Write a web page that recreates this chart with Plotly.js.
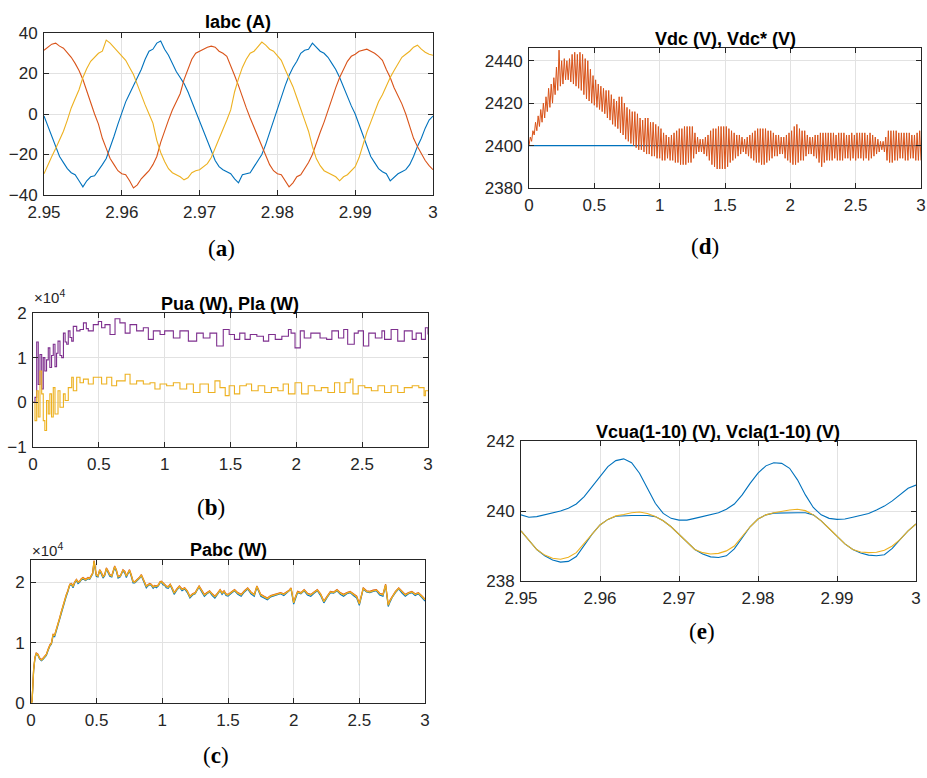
<!DOCTYPE html>
<html><head><meta charset="utf-8">
<script src="https://cdn.plot.ly/plotly-3.0.1.min.js"></script>
<style>html,body{margin:0;padding:0;background:#fff}#chart{width:927px;height:778px}</style>
</head><body><div id="chart"></div>
<script>
// ---------- (a) Iabc (A), t = 2.95 .. 3.0, step 0.5 ms ----------
const iaT0 = 2.95, iaDt = 0.0005;
const ia = [-1,-6,-11,-16,-21,-24,-27,-29,-30,-33,-36,-33,-31,-30.5,-28,-25,-22,-17,-11,-5,
  1,6,10,14,18,22,27,31,32,35,36,32,29,25,21,18,15,11,6,1,
  -4,-9,-14,-19,-23,-26,-27.5,-28.5,-29.5,-32,-34,-30,-29.5,-29,-26,-23,-20,-15,-9,-3,
  3,8,14,19,23,26,30,31.5,32,35,33,31,30,28,25,22,18,13,8,4,
  0,-5,-11,-16,-21,-24,-27,-28.5,-29.5,-33,-31,-29.5,-28.5,-27.5,-25,-21,-16,-12,-7,-3,-1];
const ib = [31.5,33,34.5,35,33.5,32.5,30.5,28,25,21.5,17,11,5,0,-5,-12,-17,-22,-25,-28,
  -29.5,-30,-33,-36.5,-35,-32,-30,-28,-25,-21,-14,-8,-3,2,6,10,17,22.5,27,30,
  31,32,33,33.5,33,31,30,28.5,24,19,14,8,3,-2,-6.5,-11,-16,-20.5,-25,-28,
  -29.5,-30,-33,-36,-34,-31,-30,-27,-24,-20,-14,-9,-4,2,8,13,18,22,26,28.5,
  29.5,31,31.5,32,31,30,28.5,26.5,22,18,13,9,5,0,-6,-12,-16,-19.5,-23,-25.5,-27.5];
const ic = [-29.5,-25,-21,-17,-12.5,-8.5,-3,3,7.5,12,18,22.5,26,28,30,31,36.5,35,33,31,
  29,26.5,23,19.5,14.5,9,4.5,0,-4.5,-13,-19,-23.5,-27,-29,-30,-31,-32.5,-31.5,-29,-28,
  -27.5,-26,-24.5,-21.5,-17,-12.5,-8,-3,2,11,17.5,23,27,30,31,33,35.5,34,32,31,
  29,26.5,22,18,13.5,8,2,-3,-8.5,-16,-22,-25.5,-28,-29,-30,-31,-33,-31,-30,-28,
  -26,-21.5,-15,-9,-4,1,6,9.5,14,18,21.5,24.5,28,29.5,31,33,34,32,30.5,29.5,29];
const iaTicks = [2.95,2.96,2.97,2.98,2.99,3.0];
const iaTickText = ['2.95','2.96','2.97','2.98','2.99','3'];

// ---------- (d) Vdc (V), Vdc* (V), t = 0 .. 3, step 0.01 s ----------
const vdcDt = 0.01;
const vdc = [
 2400,2404,2402,2407,2405,2411,2407,2414,2409,2417,
 2411,2420,2413,2423,2416,2427,2418,2429,2420,2432,
 2424,2437,2426,2445,2428,2440,2429,2441,2431,2440,
 2431,2441,2430,2443,2429,2444,2428,2443,2427,2444,
 2426,2443,2424,2441,2422,2440,2421,2436,2420,2433,
 2419,2431,2418,2429,2417,2428,2416,2427,2415,2426,
 2413,2426,2412,2424,2410,2422,2409,2421,2408,2423,
 2406,2423,2405,2420,2403,2418,2402,2417,2401,2416,
 2400,2416,2399,2415,2398,2413,2398,2412,2397,2413,
 2396,2413,2396,2411,2395,2411,2395,2410,2394,2409,
 2394,2408,2393,2406,2393,2405,2394,2404,2393,2405,
 2393,2406,2392,2407,2392,2408,2391,2408,2391,2409,
 2391,2409,2392,2409,2392,2409,2394,2406,2396,2404,
 2397,2403,2397,2403,2396,2404,2395,2405,2393,2407,
 2391,2408,2390,2408,2389,2409,2389,2409,2389,2409,
 2389,2409,2390,2408,2392,2407,2393,2406,2394,2405,
 2395,2405,2396,2404,2397,2403,2396,2404,2395,2405,
 2394,2406,2393,2407,2392,2408,2392,2408,2391,2408,
 2391,2408,2392,2407,2393,2407,2394,2406,2395,2405,
 2395,2405,2396,2404,2396,2404,2394,2405,2393,2406,
 2392,2407,2391,2409,2391,2410,2392,2408,2393,2407,
 2393,2407,2395,2405,2396,2404,2396,2404,2395,2405,
 2394,2405,2392,2406,2390,2406,2392,2406,2393,2406,
 2393,2406,2393,2406,2394,2405,2393,2406,2393,2406,
 2393,2406,2394,2405,2394,2405,2393,2406,2394,2405,
 2393,2406,2394,2406,2394,2406,2393,2406,2394,2405,
 2393,2406,2394,2405,2395,2404,2396,2403,2397,2402,
 2398,2402,2397,2404,2393,2407,2392,2407,2392,2407,
 2393,2407,2393,2406,2394,2406,2394,2406,2393,2406,
 2393,2406,2394,2405,2394,2405,2393,2406,2393,2407,
 2393];
const vdcRefT = [0, 3];
const vdcRef = [2400, 2400];

// ---------- (b) Pua (W), Pla (W)  [x 1e4] ----------
const puaPts = [[0,0],[0.015,0.11],[0.028,1.35],[0.04,0.4],[0.053,1.07],[0.066,0.3],[0.078,1.0],[0.09,0.7],
 [0.103,0.95],[0.116,1.22],[0.128,0.78],[0.141,1.05],[0.154,1.3],[0.167,0.8],[0.179,1.1],[0.19,1.37],
 [0.205,1.05],[0.218,1.0],[0.231,1.55],[0.244,1.35],[0.256,1.3],[0.268,1.6],[0.281,1.45],[0.294,1.37],
 [0.306,1.7],[0.332,1.6],[0.357,1.63],[0.383,1.78],[0.405,1.65],[0.42,1.6],[0.458,1.74],[0.496,1.81],
 [0.521,1.67],[0.547,1.74],[0.585,1.52],[0.623,1.87],[0.66,1.78],[0.7,1.55],[0.737,1.74],[0.787,1.6],
 [0.838,1.67],[0.876,1.41],[0.914,1.6],[0.965,1.52],[1.0,1.6],[1.066,1.44],[1.116,1.6],[1.18,1.37],
 [1.243,1.55],[1.293,1.44],[1.344,1.55],[1.395,1.26],[1.445,1.63],[1.49,1.52],[1.53,1.41],[1.57,1.55],
 [1.61,1.41],[1.65,1.52],[1.70,1.48],[1.75,1.37],[1.79,1.52],[1.84,1.41],[1.89,1.48],[1.94,1.63],
 [1.96,1.55],[1.99,1.22],[2.03,1.6],[2.06,1.44],[2.11,1.55],[2.18,1.44],[2.23,1.41],[2.27,1.6],
 [2.32,1.44],[2.36,1.63],[2.39,1.3],[2.44,1.55],[2.47,1.6],[2.51,1.26],[2.55,1.55],[2.60,1.44],
 [2.65,1.6],[2.67,1.41],[2.72,1.63],[2.77,1.37],[2.82,1.6],[2.88,1.41],[2.91,1.55],[2.95,1.41],
 [2.98,1.67],[3.0,1.52]];
const plaPts = [[0,0.0],[0.015,-0.41],[0.028,0.26],[0.04,-0.33],[0.053,0.7],[0.066,0.19],[0.078,-0.41],
 [0.09,-0.63],[0.103,0.04],[0.116,-0.26],[0.128,0.19],[0.141,-0.33],[0.154,0.33],[0.167,-0.26],[0.19,0.26],
 [0.205,-0.11],[0.231,0.19],[0.244,0.04],[0.268,0.33],[0.294,0.56],[0.306,0.26],[0.332,0.56],[0.357,0.44],
 [0.383,0.52],[0.42,0.41],[0.458,0.56],[0.496,0.56],[0.521,0.41],[0.56,0.56],[0.598,0.37],[0.635,0.48],
 [0.7,0.63],[0.737,0.41],[0.787,0.48],[0.838,0.41],[0.889,0.44],[0.926,0.3],[0.965,0.41],[1.015,0.37],
 [1.066,0.44],[1.116,0.3],[1.167,0.41],[1.218,0.22],[1.268,0.41],[1.332,0.22],[1.382,0.48],[1.42,0.33],
 [1.46,0.15],[1.49,0.37],[1.53,0.19],[1.57,0.37],[1.62,0.41],[1.66,0.26],[1.71,0.37],[1.76,0.22],
 [1.81,0.33],[1.86,0.26],[1.90,0.41],[1.94,0.19],[1.99,0.44],[2.04,0.19],[2.09,0.37],[2.14,0.26],
 [2.19,0.33],[2.24,0.22],[2.29,0.44],[2.33,0.22],[2.37,0.44],[2.41,0.52],[2.43,0.19],[2.47,0.37],
 [2.52,0.33],[2.57,0.26],[2.62,0.37],[2.67,0.22],[2.72,0.37],[2.77,0.22],[2.82,0.33],[2.88,0.37],
 [2.93,0.33],[2.97,0.15],[2.98,0.26],[3.0,0.26]];

// ---------- (c) Pabc (W)  [x 1e4], three phases on a shared time base ----------
const pcT = [0,0.008,0.02,0.03,0.04,0.053,0.065,0.079,0.09,0.104,0.117,0.13,0.145,0.155,0.168,0.18,
 0.193,0.205,0.218,0.23,0.244,0.255,0.269,0.28,0.295,0.308,0.32,0.333,0.346,0.358,0.37,0.383,0.396,
 0.415,0.434,0.447,0.46,0.47,0.48,0.488,0.497,0.51,0.523,0.535,0.548,0.561,0.574,0.587,0.6,0.615,
 0.625,0.637,0.65,0.663,0.68,0.7,0.715,0.726,0.738,0.75,0.763,0.777,0.79,0.803,0.815,0.828,0.84,
 0.855,0.866,0.878,0.89,0.903,0.916,0.93,0.942,0.955,0.97,0.982,0.993,1.005,1.018,1.03,1.045,1.06,
 1.075,1.09,1.11,1.13,1.15,1.17,1.19,1.21,1.23,1.25,1.265,1.28,1.3,1.32,1.34,1.36,1.38,1.4,1.42,
 1.44,1.455,1.47,1.485,1.5,1.525,1.55,1.575,1.6,1.625,1.65,1.675,1.7,1.72,1.735,1.75,1.775,1.8,
 1.825,1.85,1.875,1.9,1.925,1.95,1.965,1.98,2.0,2.015,2.03,2.055,2.08,2.105,2.13,2.155,2.18,2.205,
 2.23,2.255,2.28,2.305,2.33,2.355,2.38,2.405,2.43,2.455,2.48,2.5,2.515,2.53,2.555,2.58,2.605,2.63,
 2.655,2.68,2.7,2.72,2.735,2.75,2.775,2.8,2.825,2.85,2.875,2.9,2.925,2.95,2.975,3.0];
const pc = [0,0.02,0.55,0.75,0.82,0.8,0.74,0.71,0.73,0.77,0.8,0.88,0.96,0.98,1.13,1.12,
 1.21,1.28,1.4,1.5,1.62,1.7,1.79,1.85,1.96,1.97,1.93,2.0,2.04,2.0,2.01,2.05,2.07,
 2.04,2.07,2.06,2.12,2.15,2.35,2.22,2.12,2.1,2.2,2.16,2.09,2.12,2.23,2.18,2.12,2.1,
 2.16,2.26,2.2,2.09,2.1,2.2,2.17,2.1,2.15,2.2,2.12,2.01,2.0,2.03,2.04,2.08,2.12,
 2.05,1.98,1.93,1.95,1.97,1.96,1.92,1.94,1.93,1.95,2.0,2.01,1.98,1.96,1.93,1.92,1.96,
 1.9,1.82,1.88,1.93,1.88,1.9,1.85,1.76,1.8,1.82,1.88,1.93,1.86,1.79,1.82,1.85,1.8,1.76,1.81,
 1.87,1.82,1.85,1.8,1.79,1.83,1.87,1.82,1.79,1.85,1.9,1.83,1.79,1.93,1.85,1.79,1.76,1.73,
 1.77,1.79,1.8,1.82,1.8,1.84,1.86,1.9,1.66,1.76,1.84,1.82,1.87,1.81,1.79,1.83,1.87,1.8,
 1.68,1.76,1.84,1.83,1.87,1.82,1.79,1.82,1.84,1.8,1.76,1.64,1.78,1.9,1.85,1.84,1.86,1.87,
 1.81,1.79,1.96,1.62,1.7,1.76,1.84,1.9,1.84,1.79,1.82,1.84,1.8,1.82,1.77,1.71];
const pa = [0,0.02,0.54,0.74,0.81,0.79,0.73,0.7,0.72,0.76,0.79,0.87,0.95,0.97,1.11,1.1,
 1.2,1.27,1.39,1.49,1.61,1.69,1.77,1.84,1.95,1.96,1.91,1.99,2.03,1.98,2.0,2.04,2.06,
 2.03,2.06,2.05,2.11,2.14,2.34,2.2,2.1,2.09,2.19,2.14,2.07,2.11,2.22,2.16,2.1,2.09,
 2.15,2.25,2.18,2.07,2.09,2.19,2.15,2.08,2.14,2.19,2.1,1.99,1.99,2.02,2.03,2.07,2.11,
 2.03,1.96,1.91,1.94,1.96,1.95,1.9,1.93,1.91,1.94,1.99,2.0,1.96,1.95,1.91,1.9,1.95,
 1.88,1.8,1.87,1.92,1.86,1.89,1.83,1.74,1.79,1.81,1.87,1.92,1.84,1.77,1.81,1.84,1.78,1.74,1.8,
 1.86,1.8,1.84,1.78,1.77,1.82,1.86,1.8,1.77,1.84,1.89,1.81,1.77,1.92,1.83,1.77,1.74,1.71,
 1.76,1.78,1.79,1.81,1.78,1.83,1.85,1.89,1.64,1.75,1.83,1.81,1.86,1.79,1.77,1.82,1.86,1.78,
 1.66,1.75,1.83,1.82,1.86,1.8,1.77,1.81,1.83,1.78,1.74,1.62,1.77,1.89,1.84,1.83,1.85,1.86,
 1.79,1.77,1.95,1.6,1.68,1.75,1.83,1.89,1.82,1.77,1.81,1.83,1.78,1.81,1.75,1.69];
const pb = [0,0.02,0.56,0.76,0.83,0.81,0.75,0.72,0.74,0.78,0.81,0.89,0.97,0.99,1.14,1.13,
 1.22,1.29,1.41,1.51,1.63,1.71,1.8,1.86,1.97,1.98,1.94,2.01,2.05,2.01,2.02,2.06,2.08,
 2.05,2.08,2.07,2.13,2.16,2.36,2.23,2.13,2.11,2.21,2.17,2.1,2.13,2.24,2.19,2.13,2.11,
 2.17,2.27,2.21,2.1,2.11,2.21,2.18,2.11,2.16,2.21,2.13,2.02,2.01,2.04,2.05,2.09,2.13,
 2.06,1.99,1.94,1.96,1.98,1.97,1.93,1.95,1.94,1.96,2.01,2.02,1.99,1.97,1.94,1.93,1.97,
 1.91,1.83,1.89,1.94,1.89,1.91,1.86,1.77,1.81,1.83,1.89,1.94,1.87,1.8,1.83,1.86,1.81,1.77,1.82,
 1.88,1.83,1.86,1.81,1.8,1.84,1.88,1.83,1.8,1.86,1.91,1.84,1.8,1.94,1.86,1.8,1.77,1.74,
 1.78,1.8,1.81,1.83,1.81,1.85,1.87,1.91,1.67,1.77,1.85,1.83,1.88,1.82,1.8,1.84,1.88,1.81,
 1.69,1.77,1.85,1.84,1.88,1.83,1.8,1.83,1.85,1.81,1.77,1.65,1.79,1.91,1.86,1.85,1.87,1.88,
 1.82,1.8,1.97,1.63,1.71,1.77,1.85,1.91,1.85,1.8,1.83,1.85,1.81,1.83,1.78,1.72];

// ---------- (e) Vcua(1-10), Vcla(1-10) (V), t = 2.95 .. 3.0, step 1 ms ----------
const vcT0 = 2.95, vcDt = 0.001;
const vcuaUpper = [239.89,239.82,239.84,239.89,239.95,240.0,240.08,240.2,240.41,240.7,
  241.0,241.27,241.44,241.49,241.38,241.08,240.65,240.22,239.93,239.79,
  239.74,239.74,239.79,239.84,239.89,239.95,240.05,240.2,240.46,240.79,
  241.08,241.29,241.38,241.36,241.22,240.89,240.46,240.1,239.89,239.79,
  239.76,239.77,239.82,239.87,239.93,240.03,240.14,240.29,240.46,240.65,240.74];
const vclaBlue = [239.43,239.17,238.9,238.72,238.6,238.54,238.56,238.7,239.02,239.34,
  239.6,239.76,239.85,239.87,239.87,239.87,239.87,239.84,239.72,239.55,
  239.33,239.1,238.9,238.77,238.69,238.67,238.72,238.92,239.25,239.55,
  239.77,239.89,239.94,239.95,239.95,239.95,239.95,239.89,239.72,239.5,
  239.27,239.06,238.9,238.8,238.74,238.72,238.75,238.93,239.19,239.43,239.63];
const vclaYellow = [239.43,239.17,238.9,238.74,238.65,238.62,238.68,238.81,239.08,239.36,
  239.6,239.76,239.86,239.9,239.95,239.97,239.93,239.84,239.72,239.55,
  239.33,239.1,238.9,238.81,238.77,238.79,238.86,239.0,239.27,239.55,
  239.77,239.89,239.95,240.0,240.03,240.05,240.01,239.89,239.72,239.5,
  239.27,239.06,238.9,238.83,238.81,238.82,238.88,239.0,239.19,239.43,239.63];

// ---------- build ----------
const W = 927, H = 778;
const seq = (t0, dt, n) => Array.from({length: n}, (_, i) => +(t0 + i * dt).toFixed(6));
const col = (pts, k) => pts.map(p => p[k]);
const C = {blue:'#0072BD', orange:'#D95319', yellow:'#EDB120', purple:'#7E2F8E'};

const iaT = seq(iaT0, iaDt, ia.length);
const vdcT = seq(0, vdcDt, vdc.length);
const vcT = seq(vcT0, vcDt, vcuaUpper.length);

function ln(x, y, color, xa, ya, w, shape) {
  return {type:'scatter', mode:'lines', x:x, y:y, xaxis:xa, yaxis:ya,
          line:{color:color, width:w || 1, shape:shape || 'linear'}, hoverinfo:'skip', showlegend:false};
}
const data = [
  ln(iaT, ia, C.blue, 'x', 'y', 1.1),
  ln(iaT, ib, C.orange, 'x', 'y', 1.1),
  ln(iaT, ic, C.yellow, 'x', 'y', 1.1),
  ln(vdcRefT, vdcRef, C.blue, 'x2', 'y2', 1.2),
  ln(vdcT, vdc, C.orange, 'x2', 'y2', 1),
  ln(col(puaPts,0), col(puaPts,1), C.purple, 'x3', 'y3', 1.1, 'hv'),
  ln(col(plaPts,0), col(plaPts,1), C.yellow, 'x3', 'y3', 1.1, 'hv'),
  ln(pcT, pa, C.blue, 'x4', 'y4', 1.2),
  ln(pcT, pb, C.orange, 'x4', 'y4', 1.2),
  ln(pcT, pc, C.yellow, 'x4', 'y4', 1.3),
  ln(vcT, vcuaUpper, C.blue, 'x5', 'y5', 1.1),
  ln(vcT, vclaBlue, C.blue, 'x5', 'y5', 1.1),
  ln(vcT, vclaYellow, C.yellow, 'x5', 'y5', 1.1)
];

const tickFont = {family:'Liberation Sans, Arial, sans-serif', size:17, color:'#262626'};
function ax(extra) {
  return Object.assign({showline:true, mirror:'ticks', linecolor:'#262626', linewidth:1,
    ticks:'inside', ticklen:5, tickcolor:'#262626', showgrid:true, gridcolor:'#e2e2e2', gridwidth:1,
    zeroline:false, tickfont:tickFont, fixedrange:true, ticklabelstandoff:2}, extra);
}
const xd = (l, r) => [l / W, r / W];
const yd = (t, b) => [1 - b / H, 1 - t / H];
const tHalf = [0,0.5,1,1.5,2,2.5,3];
const tHalfTxt = ['0','0.5','1','1.5','2','2.5','3'];

const layout = {
  width:W, height:H, margin:{l:0,r:0,t:0,b:0}, paper_bgcolor:'#fff', plot_bgcolor:'#fff', showlegend:false,
  xaxis: ax({domain:xd(44,433), anchor:'y', range:[2.95,3.0], tickvals:iaTicks, ticktext:iaTickText}),
  yaxis: ax({domain:yd(33,195), anchor:'x', range:[-40,40], tickvals:[-40,-20,0,20,40]}),
  xaxis2: ax({domain:xd(529,921), anchor:'y2', range:[0,3], tickvals:tHalf, ticktext:tHalfTxt}),
  yaxis2: ax({domain:yd(48,188), anchor:'x2', range:[2380,2446], tickvals:[2380,2400,2420,2440]}),
  xaxis3: ax({domain:xd(33,428), anchor:'y3', range:[0,3], tickvals:tHalf, ticktext:tHalfTxt}),
  yaxis3: ax({domain:yd(313,447), anchor:'x3', range:[-1,2], tickvals:[-1,0,1,2]}),
  xaxis4: ax({domain:xd(31,425), anchor:'y4', range:[0,3], tickvals:tHalf, ticktext:tHalfTxt}),
  yaxis4: ax({domain:yd(560,703), anchor:'x4', range:[0,2.37], tickvals:[0,1,2]}),
  xaxis5: ax({domain:xd(521,916), anchor:'y5', range:[2.95,3.0], tickvals:iaTicks, ticktext:iaTickText}),
  yaxis5: ax({domain:yd(441,581), anchor:'x5', range:[238,242], tickvals:[238,240,242]}),
  annotations: []
};
function ann(text, px, py, font, xanchor) {
  layout.annotations.push({text:text, x:px / W, y:1 - py / H, xref:'paper', yref:'paper',
    showarrow:false, xanchor:xanchor || 'center', yanchor:'middle', font:font});
}
const titleFont = {family:'Liberation Sans, Arial, sans-serif', size:18, color:'#000'};
ann('<b>Iabc (A)</b>', 238, 22, titleFont);
ann('<b>Vdc (V), Vdc* (V)</b>', 725, 39, titleFont);
ann('<b>Pua (W), Pla (W)</b>', 230, 304, titleFont);
ann('<b>Pabc (W)</b>', 228, 550, titleFont);
ann('<b>Vcua(1-10) (V), Vcla(1-10) (V)</b>', 718, 432, titleFont);
const expFont = {family:'Liberation Sans, Arial, sans-serif', size:15, color:'#262626'};
ann('×10<sup>4</sup>', 32, 296, expFont, 'left');
ann('×10<sup>4</sup>', 30, 549, expFont, 'left');
const labFont = {family:'Liberation Serif, Times New Roman, serif', size:23, color:'#000'};
ann('(<b>a</b>)', 221, 248, labFont);
ann('(<b>d</b>)', 705, 247, labFont);
ann('(<b>b</b>)', 211, 507, labFont);
ann('(<b>c</b>)', 216, 755, labFont);
ann('(<b>e</b>)', 702, 631, labFont);

Plotly.newPlot('chart', data, layout, {staticPlot:true, displayModeBar:false});
</script>
</body></html>
